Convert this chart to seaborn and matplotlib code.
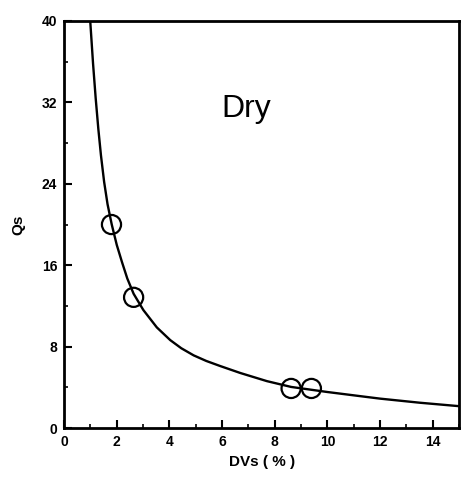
import matplotlib
matplotlib.use("Agg")
import matplotlib.pyplot as plt
import seaborn as sns
import pandas as pd
from matplotlib.ticker import MultipleLocator

# Fitted curve
curve_x = [0.99, 1.10, 1.20, 1.30, 1.40, 1.52, 1.65, 1.81, 2.00, 2.20, 2.40, 2.64, 3.01, 3.52, 4.03,
           4.45, 4.92, 5.40, 5.93, 6.69, 7.70, 8.62, 10.0, 11.38, 12.0, 13.5, 15.0]
curve_y = [40.1, 35.8, 32.4, 29.4, 26.8, 24.2, 22.0, 20.0, 18.0, 16.3, 14.7, 13.2, 11.6, 9.9, 8.65,
           7.85, 7.15, 6.6, 6.1, 5.42, 4.62, 4.05, 3.55, 3.1, 2.9, 2.5, 2.16]

# Measured points
pts_x = [1.80, 2.64, 8.62, 9.39]
pts_y = [20.0, 12.85, 3.9, 3.9]

x_ticks = [0, 2, 4, 6, 8, 10, 12, 14]
y_ticks = [0, 8, 16, 24, 32, 40]

sns.set_style("white")
plt.rcParams['font.family'] = ['Liberation Sans', 'DejaVu Sans']
plt.rcParams['text.color'] = 'black'
plt.rcParams['axes.labelcolor'] = 'black'
plt.rcParams['xtick.color'] = 'black'
plt.rcParams['ytick.color'] = 'black'

fig = plt.figure(figsize=(4.61, 4.86), dpi=100)
ax = fig.add_axes([0.139, 0.119, 0.857, 0.838])

curve = pd.DataFrame({"x": curve_x, "y": curve_y})
pts = pd.DataFrame({"x": pts_x, "y": pts_y})

sns.lineplot(data=curve, x="x", y="y", ax=ax, color="black", linewidth=1.7, sort=False)
sns.scatterplot(data=pts, x="x", y="y", ax=ax, marker="o", s=190,
                facecolor="none", edgecolor="black", linewidth=1.6, zorder=3)

ax.set_xlim(0, 15)
ax.set_ylim(0, 40)
ax.set_xticks(x_ticks)
ax.set_yticks(y_ticks)
ax.xaxis.set_minor_locator(MultipleLocator(1))
ax.yaxis.set_minor_locator(MultipleLocator(4))
ax.tick_params(which="major", direction="in", length=6, width=1.5,
               labelsize=10, pad=5, colors="black")
ax.tick_params(which="minor", direction="in", length=3, width=1.2, colors="black")
ax.tick_params(axis="x", which="both", bottom=True, top=False)
ax.tick_params(axis="y", which="both", left=True, right=False)
for lbl in ax.get_xticklabels() + ax.get_yticklabels():
    lbl.set_fontweight("bold")
    lbl.set_color("black")

for s in ax.spines.values():
    s.set_linewidth(2.0)
    s.set_color("black")

ax.set_xlabel("DVs ( % )", fontsize=11, fontweight="bold", labelpad=4, color="black")
ax.set_ylabel("Qs", fontsize=11, fontweight="bold", labelpad=12, color="black")

ax.text(6.9, 31.3, "Dry", fontsize=23, ha="center", va="center", color="black")

fig.savefig("out.png", dpi=100)
